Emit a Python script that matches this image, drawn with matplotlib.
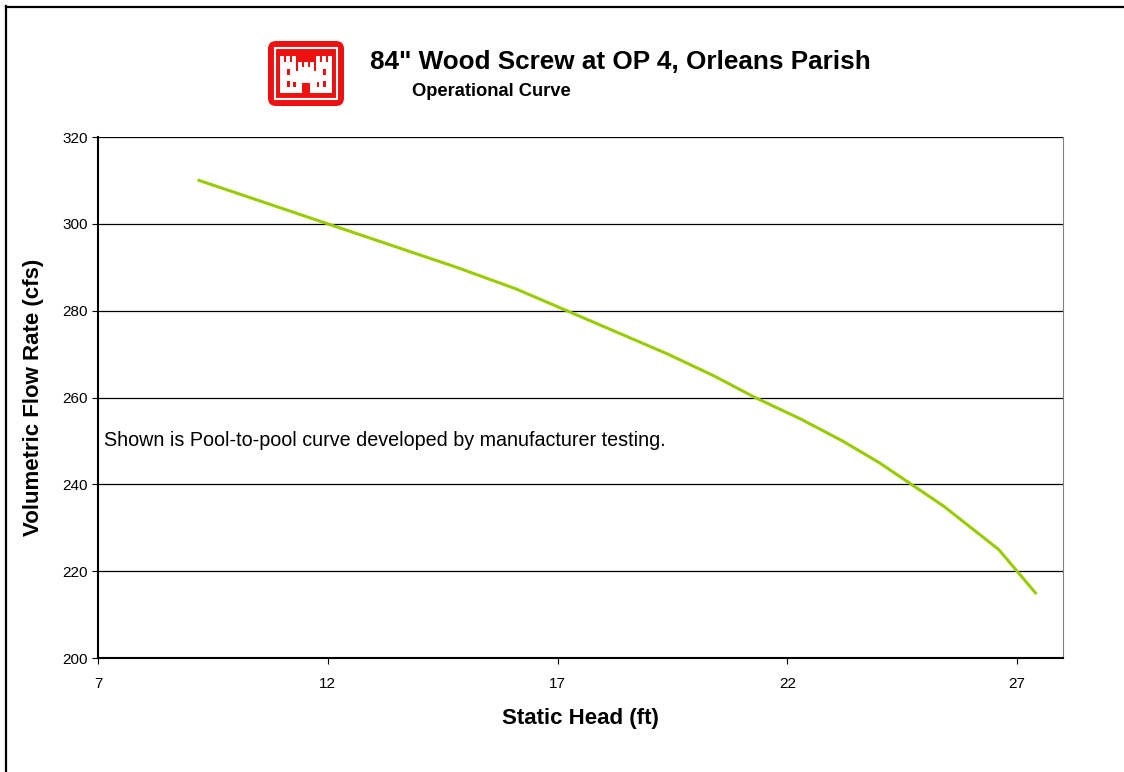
import matplotlib
matplotlib.use("Agg")
import matplotlib.pyplot as plt
from matplotlib.patches import FancyBboxPatch, Rectangle
from matplotlib.lines import Line2D

plt.rcParams['font.family'] = ['Liberation Sans', 'DejaVu Sans']

# operational curve
head = [9.2, 10.6, 12.0, 13.4, 14.8, 16.1, 17.2, 18.3, 19.4, 20.4,
        21.3, 22.3, 23.2, 24.0, 24.7, 25.4, 26.0, 26.6, 27.0, 27.4]
flow = [310, 305, 300, 295, 290, 285, 280, 275, 270, 265,
        260, 255, 250, 245, 240, 235, 230, 225, 220, 215]

x_ticks = [7, 12, 17, 22, 27]
y_ticks = [200, 220, 240, 260, 280, 300, 320]

W, H = 1124, 772
fig = plt.figure(figsize=(W / 100, H / 100), dpi=100)

# outer frame (only top and left edges are inside the picture)
fig.lines.append(Line2D([6 / W, 6 / W], [0, 1 - 6 / H], transform=fig.transFigure,
                        color='black', linewidth=1.6))
fig.lines.append(Line2D([6 / W, 1], [1 - 7 / H, 1 - 7 / H], transform=fig.transFigure,
                        color='black', linewidth=1.6))

ax = fig.add_axes([98 / W, 1 - 658 / H, (1063 - 98) / W, (658 - 137) / H])
ax.plot(head, flow, color='#99cc00', linewidth=2.2)

ax.set_xlim(7, 28)
ax.set_ylim(200, 320)
ax.set_xticks(x_ticks)
ax.set_yticks(y_ticks)
ax.yaxis.grid(True, color='black', linewidth=0.9)
ax.tick_params(labelsize=11, length=4, direction='out')
ax.tick_params(axis='x', pad=10)
for s in ['left', 'bottom']:
    ax.spines[s].set_linewidth(1.5)
ax.spines['top'].set_visible(False)
ax.spines['right'].set_color('#808080')

ax.set_xlabel('Static Head (ft)', fontsize=16, fontweight='bold', labelpad=12)
ax.set_ylabel('Volumetric Flow Rate (cfs)', fontsize=16, fontweight='bold', labelpad=13)

ax.text(7.12, 250, 'Shown is Pool-to-pool curve developed by manufacturer testing.',
        fontsize=14.2, va='center', ha='left')

# titles
fig.text(370 / W, 1 - 62 / H, '84" Wood Screw at OP 4, Orleans Parish',
         fontsize=18.8, fontweight='bold', va='center', ha='left')
fig.text(412 / W, 1 - 92 / H, 'Operational Curve',
         fontsize=13.2, fontweight='bold', va='center', ha='left')

# logo: red rounded box with white castle
lx, ly = 267, 40
lw, lh = 78, 67
red = '#ee1111'
logo = fig.add_axes([lx / W, 1 - (ly + lh) / H, lw / W, lh / H])
logo.set_xlim(0, 78)
logo.set_ylim(0, 67)
logo.axis('off')
logo.add_patch(FancyBboxPatch((1, 1), 76, 65, boxstyle='round,pad=0,rounding_size=8',
                              facecolor=red, edgecolor='none'))
logo.add_patch(Rectangle((8, 8), 62, 51, fill=False, edgecolor='white', linewidth=1.5))
# castle body
logo.add_patch(Rectangle((20, 14), 38, 22, facecolor='white'))
# side towers
for tx in [13, 49]:
    logo.add_patch(Rectangle((tx, 14), 16, 31, facecolor='white'))
    for bx in range(3):
        logo.add_patch(Rectangle((tx + bx * 6, 45), 4, 6, facecolor='white'))
# centre tower
logo.add_patch(Rectangle((31, 14), 16, 26, facecolor='white'))
for bx in range(3):
    logo.add_patch(Rectangle((31 + bx * 6, 40), 4, 5, facecolor='white'))
# door and windows
logo.add_patch(Rectangle((35, 14), 8, 10, facecolor=red))
for wx in [19.5, 55.5]:
    logo.add_patch(Rectangle((wx, 32), 3, 6, facecolor=red))
    logo.add_patch(Rectangle((wx, 20), 3, 6, facecolor=red))
logo.add_patch(Rectangle((26, 20), 2.5, 5, facecolor=red))
logo.add_patch(Rectangle((49.5, 20), 2.5, 5, facecolor=red))

fig.savefig('out.png', dpi=100)
